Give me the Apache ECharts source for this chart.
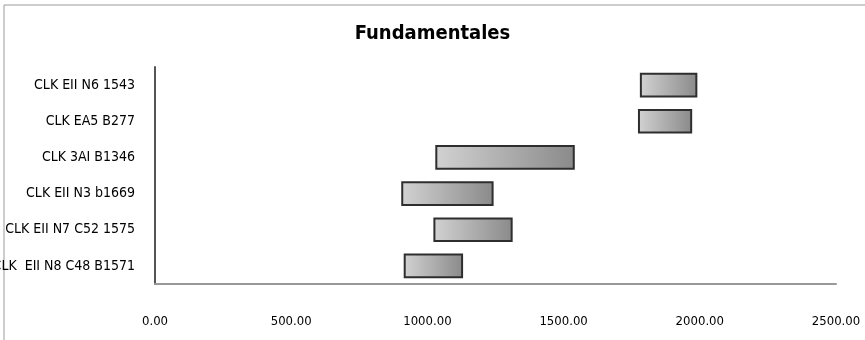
<!DOCTYPE html>
<html>
<head>
<meta charset="utf-8">
<script src="https://cdn.jsdelivr.net/npm/echarts@6/dist/echarts.min.js"></script>
<style>
  html, body { margin: 0; padding: 0; background: #fff; }
  #main { width: 865px; height: 340px; }
</style>
</head>
<body>
<div id="main"></div>
<script>
    // categorías de arriba a abajo
    var categories = ['CLK EII N6 1543', 'CLK EA5 B277', 'CLK 3AI B1346', 'CLK EII N3 b1669', 'CLK EII N7 C52 1575', 'CLK  EII N8 C48 B1571'];
    var startValues = [1780, 1773, 1029, 904, 1022, 913];
    var endValues = [1991, 1972, 1541, 1243, 1313, 1131];
    var xTicks = [0, 500, 1000, 1500, 2000, 2500];

    var spanValues = [];
    for (var i = 0; i < categories.length; i++) {
        spanValues.push(endValues[i] - startValues[i]);
    }

    var labelFont = '"Liberation Sans Narrow", "DejaVu Sans Condensed", sans-serif';

    var myChart = echarts.init(document.getElementById('main'));
    myChart.setOption({
        animation: false,
        title: {
            text: 'Fundamentales',
            left: 'center',
            top: 19,
            textStyle: {
                fontFamily: labelFont,
                fontSize: 20,
                fontWeight: 'bold',
                color: '#000'
            }
        },
        graphic: [{
            type: 'rect',
            shape: { x: 4, y: 5, width: 900, height: 400 },
            style: { fill: 'none', stroke: '#9a9a9a', lineWidth: 1 },
            silent: true,
            z: -1
        }],
        grid: {
            left: 155,
            top: 67,
            right: 29,
            bottom: 56,
            containLabel: false,
            outerBoundsMode: 'none'
        },
        xAxis: {
            type: 'value',
            min: xTicks[0],
            max: xTicks[xTicks.length - 1],
            interval: 500,
            axisLine: { show: true, lineStyle: { color: '#999', width: 2 } },
            axisTick: { show: false },
            splitLine: { show: false },
            axisLabel: {
                margin: 31,
                fontFamily: labelFont,
                fontSize: 13,
                color: '#000',
                formatter: function (v) { return v.toFixed(2); }
            }
        },
        yAxis: {
            type: 'category',
            inverse: true,
            data: categories,
            axisLine: { show: true, lineStyle: { color: '#555', width: 2 } },
            axisTick: { show: false },
            axisLabel: {
                margin: 20,
                fontFamily: labelFont,
                fontSize: 14,
                color: '#000'
            }
        },
        series: [{
            type: 'bar',
            stack: 'rango',
            data: startValues,
            itemStyle: { color: 'transparent' },
            barWidth: '68%',
            silent: true
        }, {
            type: 'bar',
            stack: 'rango',
            data: spanValues,
            barWidth: '68%',
            itemStyle: {
                color: new echarts.graphic.LinearGradient(0, 0, 1, 0, [
                    { offset: 0, color: '#d2d2d2' },
                    { offset: 1, color: '#8a8a8a' }
                ]),
                borderColor: '#2e2e2e',
                borderWidth: 2
            }
        }]
    });
</script>
</body>
</html>
